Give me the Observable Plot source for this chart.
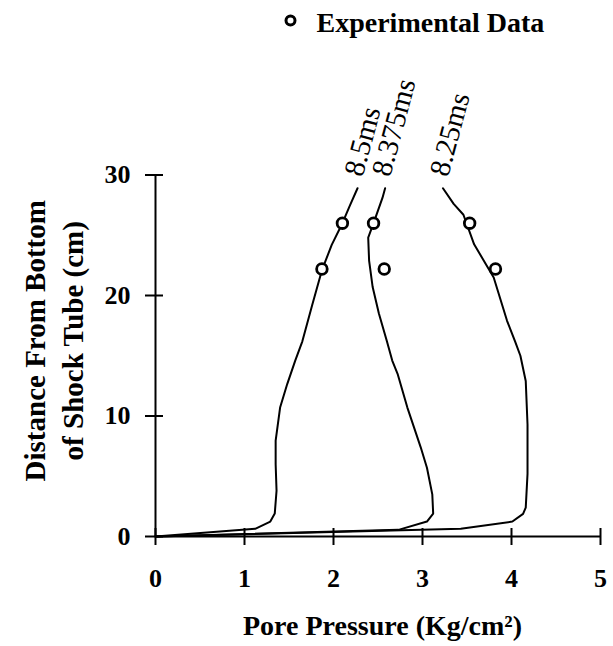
<!DOCTYPE html>
<html>
<head>
<meta charset="utf-8">
<script src="https://cdn.jsdelivr.net/npm/d3@7"></script>
<script src="https://cdn.jsdelivr.net/npm/@observablehq/plot@0.6"></script>
<style>
  body { margin: 0; background: #fff; }
  #chart svg { display: block; }
</style>
</head>
<body>
<div id="chart"></div>
<script>
// ---- data ----
const seriesNames = ["8.5ms", "8.375ms", "8.25ms"];

const pressure85 = [0, 1.12, 1.29, 1.34, 1.36, 1.35, 1.35, 1.40, 1.48, 1.57, 1.65, 1.76, 1.87, 1.98, 2.10, 2.18, 2.27];
const depth85    = [0, 0.64, 1.24, 1.9, 3.8, 6.0, 7.95, 10.7, 12.65, 14.6, 16.2, 19.2, 22.1, 24.2, 26.0, 27.4, 28.9];

const pressure8375 = [0, 2.73, 3.05, 3.12, 3.11, 3.05, 2.98, 2.83, 2.72, 2.66, 2.60, 2.51, 2.44, 2.40, 2.39, 2.45, 2.55, 2.58];
const depth8375    = [0, 0.55, 1.24, 1.9, 3.5, 5.7, 7.4, 10.7, 13.5, 14.6, 16.2, 18.5, 20.7, 22.9, 24.8, 26.0, 28.1, 28.9];

const pressure825 = [0, 3.43, 4.01, 4.13, 4.16, 4.18, 4.18, 4.16, 4.10, 4.04, 3.95, 3.80, 3.58, 3.46, 3.35, 3.23];
const depth825    = [0, 0.64, 1.24, 1.88, 2.4, 5.2, 9.3, 12.9, 15.0, 16.2, 17.9, 21.5, 24.25, 26.7, 27.6, 28.9];

const expPressure = [1.87, 2.10, 2.45, 2.57, 3.53, 3.82];
const expDepth    = [22.2, 26.0, 26.0, 22.2, 26.0, 22.2];

const xTicks = [0, 1, 2, 3, 4, 5];
const yTicks = [0, 10, 20, 30];

const legendLabel = "Experimental Data";
const xLabel = "Pore Pressure (Kg/cm²)";
const yLabelLines = ["Distance From Bottom", "of Shock Tube (cm)"];

// ---- tables built from the arrays ----
const curveSets = [
  {name: seriesNames[0], p: pressure85, d: depth85},
  {name: seriesNames[1], p: pressure8375, d: depth8375},
  {name: seriesNames[2], p: pressure825, d: depth825}
];
const curveRows = curveSets.flatMap(s => s.p.map((p, i) => ({name: s.name, p, d: s.d[i]})));
const labelRows = curveSets.map(s => ({name: s.name, p: s.p[s.p.length - 1], d: s.d[s.d.length - 1]}));
const expRows = expPressure.map((p, i) => ({p, d: expDepth[i]}));

const serif = "'Liberation Serif', 'Times New Roman', serif";
const intFormat = d3.format("d");

const chart = Plot.plot({
  width: 613,
  height: 646,
  marginTop: 174.5,
  marginBottom: 110,
  marginLeft: 155,
  marginRight: 13,
  style: {fontFamily: serif, background: "white", color: "black", overflow: "visible"},
  x: {domain: [0, 5], label: null},
  y: {domain: [0, 30], label: null},
  marks: [
    // axis lines
    Plot.ruleY([0], {stroke: "black", strokeWidth: 2}),
    Plot.ruleX([0], {stroke: "black", strokeWidth: 2}),
    // crossing ticks
    Plot.axisX({ticks: xTicks, tickSize: 17, dy: -8, fill: "none", stroke: "black", strokeWidth: 2, label: null}),
    Plot.axisY({ticks: yTicks, tickSize: 18, dx: 8, fill: "none", stroke: "black", strokeWidth: 2, label: null}),
    // tick labels
    Plot.axisX({ticks: xTicks, tickFormat: intFormat, tickSize: 0, tickPadding: 32, fontSize: 26, fontWeight: "bold",
      fill: "black", label: null, fontFamily: serif}),
    Plot.axisY({ticks: yTicks, tickFormat: intFormat, tickSize: 0, tickPadding: 25, fontSize: 26, fontWeight: "bold",
      fill: "black", label: null, fontFamily: serif}),
    // simulated curves
    Plot.line(curveRows, {x: "p", y: "d", z: "name", stroke: "black", strokeWidth: 2, curve: "linear"}),
    // curve labels
    Plot.text(labelRows, {x: "p", y: "d", text: "name", rotate: -75, textAnchor: "start", lineAnchor: "middle",
      dx: -4, dy: -13, fontSize: 29, fill: "black"}),
    // experimental data
    Plot.dot(expRows, {x: "p", y: "d", r: 5.3, stroke: "black", strokeWidth: 2.8, fill: "white"}),
    // legend
    Plot.dot([legendLabel], {frameAnchor: "top-left", dx: 135, dy: -154.5, r: 4.5, stroke: "black", strokeWidth: 3, fill: "white"}),
    Plot.text([legendLabel], {frameAnchor: "top-left", dx: 161, dy: -152, textAnchor: "start", lineAnchor: "middle",
      fontWeight: "bold", fontSize: 28, fill: "black"}),
    // axis titles
    Plot.text([yLabelLines.join("\n")], {frameAnchor: "left", rotate: -90, dx: -103.5, dy: -15, textAnchor: "middle",
      lineAnchor: "middle", lineHeight: 1.32, fontWeight: "bold", fontSize: 29, fill: "black"}),
    Plot.text([xLabel], {frameAnchor: "bottom", dx: 4.5, dy: 90, textAnchor: "middle", lineAnchor: "middle",
      fontWeight: "bold", fontSize: 28, fill: "black"})
  ]
});

document.getElementById("chart").append(chart);
</script>
</body>
</html>
